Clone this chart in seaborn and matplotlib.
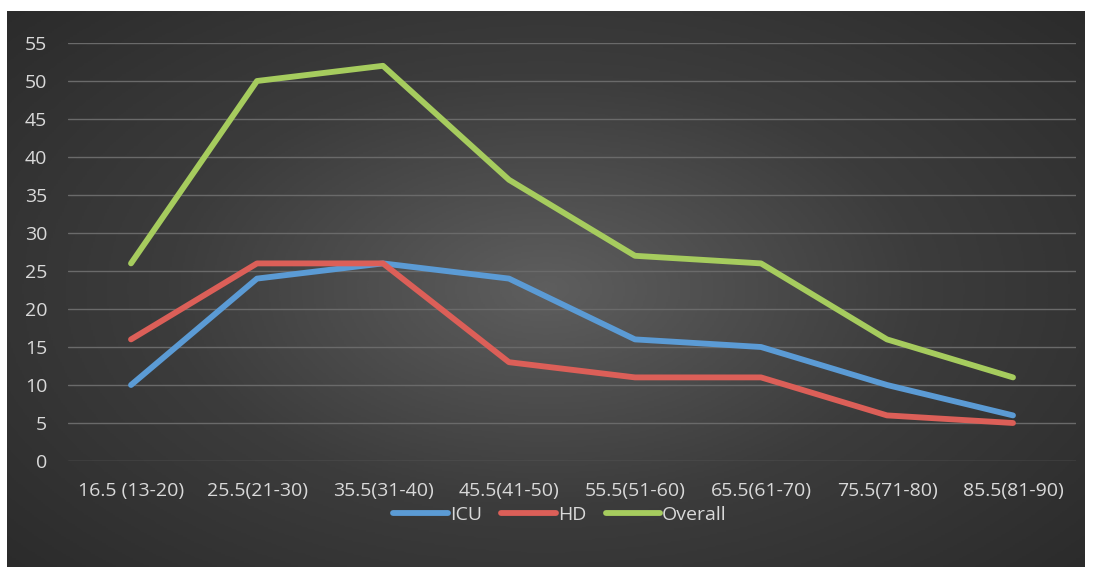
import numpy as np
import pandas as pd
import matplotlib
matplotlib.use("Agg")
import matplotlib.pyplot as plt
import seaborn as sns
from matplotlib.lines import Line2D

# Data
age_groups = ["16.5 (13-20)", "25.5(21-30)", "35.5(31-40)", "45.5(41-50)",
              "55.5(51-60)", "65.5(61-70)", "75.5(71-80)", "85.5(81-90)"]
icu = [10, 24, 26, 24, 16, 15, 10, 6]
hd = [16, 26, 26, 13, 11, 11, 6, 5]
overall = [26, 50, 52, 37, 27, 26, 16, 11]

df = pd.DataFrame({
    "age": age_groups * 3,
    "value": icu + hd + overall,
    "series": ["ICU"] * 8 + ["HD"] * 8 + ["Overall"] * 8,
})
df["pos"] = list(range(8)) * 3

sns.set_style("white")
plt.rcParams["font.family"] = ["Open Sans", "DejaVu Sans"]

fig = plt.figure(figsize=(10.94, 5.77), dpi=100)
fig.patch.set_facecolor("white")

# dark radial gradient background
bg = fig.add_axes([7 / 1094, 10 / 577, 1078 / 1094, 556 / 577])
yy, xx = np.mgrid[-1:1:300j, -1:1:600j]
r = np.sqrt(xx ** 2 + (yy * 0.9) ** 2)
bg.imshow(r, cmap=sns.blend_palette(["#5e5e5e", "#3c3c3c", "#2a2a2a"], as_cmap=True),
          aspect="auto", vmin=0, vmax=1.4, extent=[0, 1, 0, 1])
bg.set_axis_off()

ax = fig.add_axes([68 / 1094, (577 - 461) / 577, 1008 / 1094, 418 / 577])
ax.patch.set_alpha(0)

palette = {"ICU": "#5b9bd5", "HD": "#dc5f58", "Overall": "#a6cc5e"}
sns.lineplot(data=df, x="pos", y="value", hue="series", palette=palette,
             linewidth=4.2, ax=ax, legend=False, solid_capstyle="round")

ax.set_xlim(-0.5, 7.5)
ax.set_ylim(0, 55)
ax.set_yticks(range(0, 56, 5))
ax.set_xticks(range(8))
ax.set_xticklabels(age_groups)
ax.grid(axis="y", color="#6a6a6a", linewidth=1)
ax.set_axisbelow(True)
for s in ax.spines.values():
    s.set_visible(False)
ax.tick_params(axis="both", length=0, colors="#d9d9d9", labelsize=14)
ax.tick_params(axis="y", pad=15)
ax.tick_params(axis="x", pad=15)
ax.set_xlabel("")
ax.set_ylabel("")

handles = [Line2D([0], [0], color=palette[k], linewidth=4.2, solid_capstyle="round")
           for k in ["ICU", "HD", "Overall"]]
leg = fig.legend(handles, ["ICU", "HD", "Overall"], loc="center",
                 bbox_to_anchor=(560 / 1094, 1 - 515 / 577), ncol=3, frameon=False,
                 handlelength=2.8, handletextpad=0.1, columnspacing=1.0, fontsize=14)
for t in leg.get_texts():
    t.set_color("#d9d9d9")

fig.savefig("out.png", dpi=100, facecolor=fig.get_facecolor())
